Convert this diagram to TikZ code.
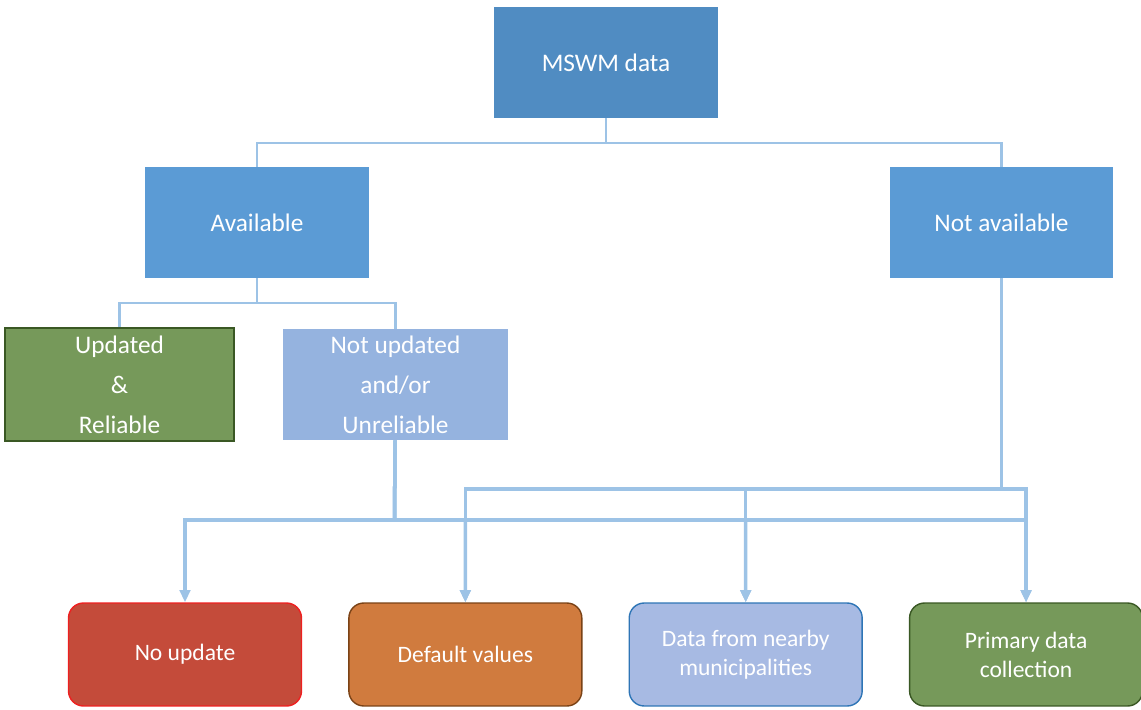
\documentclass[tikz,border=0pt]{standalone}
\usepackage{fontspec}
\setmainfont{Carlito}
\usetikzlibrary{positioning,arrows.meta}

\definecolor{mswmblue}{RGB}{80,140,194}
\definecolor{availblue}{RGB}{91,155,213}
\definecolor{paleblue}{RGB}{149,179,223}
\definecolor{leafgreen}{RGB}{118,153,90}
\definecolor{darkgreen}{RGB}{58,88,36}
\definecolor{brickred}{RGB}{196,75,58}
\definecolor{brightred}{RGB}{238,32,32}
\definecolor{orangebox}{RGB}{208,123,62}
\definecolor{brownline}{RGB}{122,66,22}
\definecolor{lavender}{RGB}{167,186,227}
\definecolor{steelline}{RGB}{46,117,182}
\definecolor{linkblue}{RGB}{157,195,230}

\tikzset{
  topbox/.style={rectangle,fill=#1,text=white,inner sep=0pt,
    minimum width=4.48cm,minimum height=2.22cm,align=center,
    font=\fontsize{14.4}{22.7}\selectfont},
  leafbox/.style={rectangle,rounded corners=0.3cm,line width=0.8pt,
    inner sep=0pt,minimum width=4.66cm,minimum height=2.06cm,
    text=white,align=center,font=\fontsize{13.4}{16.4}\selectfont},
  tree/.style={draw=linkblue,line width=1.2pt},
  arr/.style={draw=linkblue,line width=2pt,
    -{Triangle[width=6pt,length=7pt]}}
}

\begin{document}
\begin{tikzpicture}[x=0.02cm,y=-0.02cm]
\useasboundingbox (0,0) rectangle (1141,709);

\node[topbox=mswmblue](mswm) at (606,62.5){MSWM data};
\node[topbox=availblue](avail) at (257,222.5){Available};
\node[topbox=availblue](navail) at (1001.5,222.5){Not available};
\node[topbox=leafgreen, draw=darkgreen, line width=0.8pt,
  minimum width=4.58cm, minimum height=2.26cm](upd) at (119.5,384.5){Updated\\\&\\Reliable};
\node[topbox=paleblue, minimum width=4.5cm, right=0.96cm of upd](notupd){Not updated\\and/or\\Unreliable};

\node[leafbox, fill=brickred, draw=brightred](noupd) at (185,654.5){No update};
\node[leafbox, fill=orangebox, draw=brownline, right=0.92cm of noupd](default){Default values};
\node[leafbox, fill=lavender, draw=steelline, right=0.92cm of default](nearby){Data from nearby\\municipalities};
\node[leafbox, fill=leafgreen, draw=darkgreen, right=0.92cm of nearby](primary){Primary data\\collection};

% tree
\coordinate (j1) at (606,143);
\coordinate (j2) at (257,303);
\path[tree] (mswm) -- (j1) -| (avail);
\path[tree] (j1) -| (navail);
\path[tree] (avail) -- (j2) -| (upd);
\path[tree] (j2) -| (notupd);

% arrows
\coordinate (lo) at (394.5,520);
\coordinate (hi) at (1001.5,489);
\foreach \t in {default,nearby,primary}
  \path[arr] (navail) -- (hi) -| (\t);
\foreach \t in {noupd,default,nearby,primary}
  \path[arr] (notupd) -- (lo) -| (\t);
\end{tikzpicture}
\end{document}
